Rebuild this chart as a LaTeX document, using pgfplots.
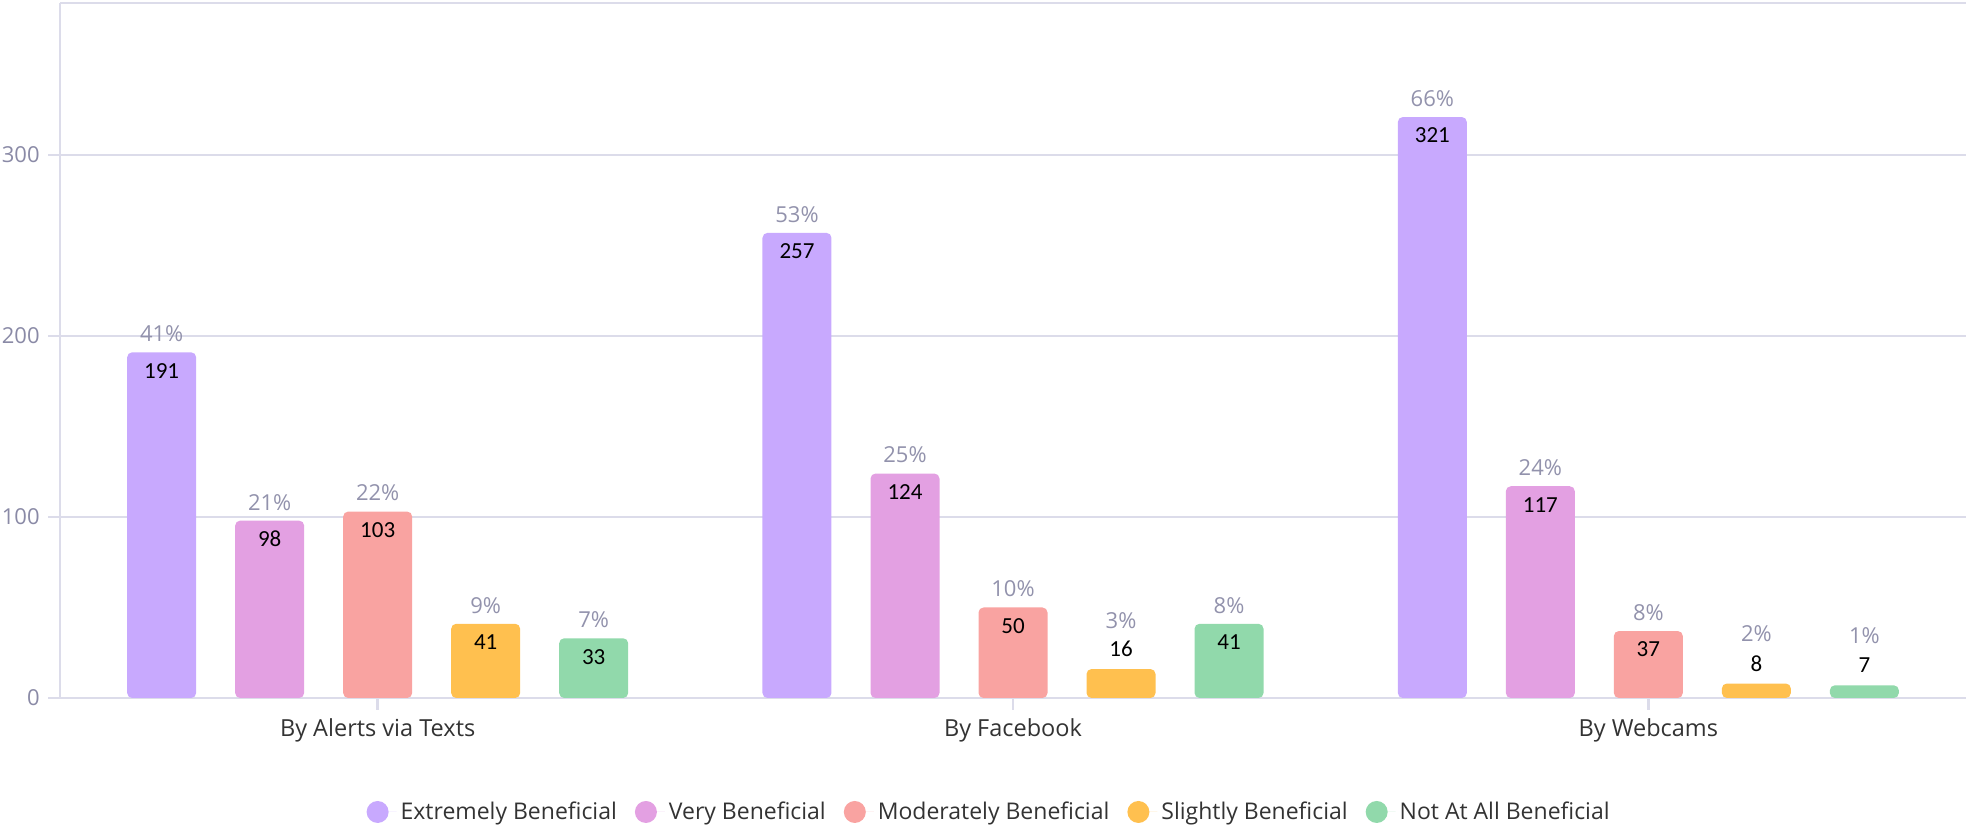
\documentclass[border=0pt]{standalone}
\usepackage{pgfplots}
\pgfplotsset{compat=1.18}
\usepackage{pgfplotstable}
\usepackage{fontspec}
\setmainfont{Open Sans}
\newfontfamily\carlito{Carlito}
\definecolor{cA}{HTML}{C8A9FE}
\definecolor{cB}{HTML}{E3A0E2}
\definecolor{cC}{HTML}{F9A3A1}
\definecolor{cD}{HTML}{FFC04F}
\definecolor{cE}{HTML}{91D9AB}
\definecolor{gridc}{HTML}{DCDCEA}
\definecolor{tickc}{HTML}{8A8AA6}
\definecolor{pctc}{HTML}{9292AC}
\definecolor{labc}{HTML}{333333}

\pgfplotstableread{
x v
0 191
1 257
2 321
}\tA
\pgfplotstableread{
x v
0 98
1 124
2 117
}\tB
\pgfplotstableread{
x v
0 103
1 50
2 37
}\tC
\pgfplotstableread{
x v
0 41
1 16
2 8
}\tD
\pgfplotstableread{
x v
0 33
1 41
2 7
}\tE
\pgfplotstableread{
pos ny num py pct
-0.34 180.8 191 201.2 41
-0.17 87.8 98 108.2 21
0 92.8 103 113.2 22
0.17 30.8 41 51.2 9
0.34 22.8 33 43.2 7
0.66 246.8 257 267.2 53
0.83 113.8 124 134.2 25
1 39.8 50 60.2 10
1.17 27 16 43 3
1.34 30.8 41 51.2 8
1.66 310.8 321 331.2 66
1.83 106.8 117 127.2 24
2 26.8 37 47.2 8
2.17 19 8 35.4 2
2.34 18 7 34.5 1
}\tLab

\begin{document}
\begin{tikzpicture}
\begin{axis}[
 at={(0,0)}, anchor=south west,
 scale only axis, width=953pt, height=347.5pt,
 xmin=-0.5, xmax=2.5, ymin=0, ymax=384,
 axis x line*=bottom, axis y line*=left,
 axis line style={draw=gridc, line width=1.2pt, -},
 xtick={0,1,2}, xticklabels={By Alerts via Texts, By Facebook, By Webcams},
 ytick={0,100,200,300},
 ymajorgrids, grid style={draw=gridc, line width=1.2pt},
 extra y ticks={384}, extra y tick labels={},
 extra y tick style={major tick length=0pt, grid=major},
 tick align=outside, major tick length=6pt,
 tick style={draw=gridc, line width=1.2pt},
 yticklabel style={font=\fontsize{11}{13}\selectfont, text=tickc, anchor=east, inner sep=0pt, xshift=-4pt},
 xticklabel style={font=\fontsize{11.75}{14}\selectfont, text=labc, anchor=base, inner sep=0pt, yshift=-13.5pt},
 /pgf/number format/assume math mode=true,
 legend columns=5,
 legend style={at={(0.488,-0.164)}, anchor=center, draw=none, fill=none,
   font=\fontsize{11.5}{13}\selectfont, text=labc,
   /tikz/every even column/.append style={column sep=7pt}},
 legend cell align=left,
]
\addplot[ybar, bar width=0.1086, bar shift=-0.34, fill=cA, draw=none, rounded corners=2.5pt,
  legend image code/.code={\fill[cA] (5.5pt,0pt) circle (5.5pt); \path (0pt,0pt) -- (15pt,0pt);}] table[x=x,y=v]{\tA};
\addlegendentry{Extremely Beneficial}
\addplot[ybar, bar width=0.1086, bar shift=-0.17, fill=cB, draw=none, rounded corners=2.5pt,
  legend image code/.code={\fill[cB] (5.5pt,0pt) circle (5.5pt); \path (0pt,0pt) -- (15pt,0pt);}] table[x=x,y=v]{\tB};
\addlegendentry{Very Beneficial}
\addplot[ybar, bar width=0.1086, bar shift=0, fill=cC, draw=none, rounded corners=2.5pt,
  legend image code/.code={\fill[cC] (5.5pt,0pt) circle (5.5pt); \path (0pt,0pt) -- (15pt,0pt);}] table[x=x,y=v]{\tC};
\addlegendentry{Moderately Beneficial}
\addplot[ybar, bar width=0.1086, bar shift=0.17, fill=cD, draw=none, rounded corners=2.5pt,
  legend image code/.code={\fill[cD] (5.5pt,0pt) circle (5.5pt); \path (0pt,0pt) -- (15pt,0pt);}] table[x=x,y=v]{\tD};
\addlegendentry{Slightly Beneficial}
\addplot[ybar, bar width=0.1086, bar shift=0.34, fill=cE, draw=none, rounded corners=2.5pt,
  legend image code/.code={\fill[cE] (5.5pt,0pt) circle (5.5pt); \path (0pt,0pt) -- (15pt,0pt);}] table[x=x,y=v]{\tE};
\addlegendentry{Not At All Beneficial}

\addplot[draw=none, mark=none, forget plot, point meta=explicit symbolic,
  nodes near coords={\pgfplotspointmeta},
  every node near coord/.style={anchor=center, font=\carlito\fontsize{11.5}{13}\selectfont, text=black, inner sep=0pt}]
  table[x=pos, y=ny, meta=num]{\tLab};
\addplot[draw=none, mark=none, forget plot, point meta=explicit symbolic,
  nodes near coords={\pgfplotspointmeta\%},
  every node near coord/.style={anchor=center, font=\fontsize{11}{13}\selectfont, text=pctc, inner sep=0pt}]
  table[x=pos, y=py, meta=pct]{\tLab};
\end{axis}
\pgfresetboundingbox
\path (-30pt,-65pt) rectangle (953pt,349pt);
\end{tikzpicture}
\end{document}
